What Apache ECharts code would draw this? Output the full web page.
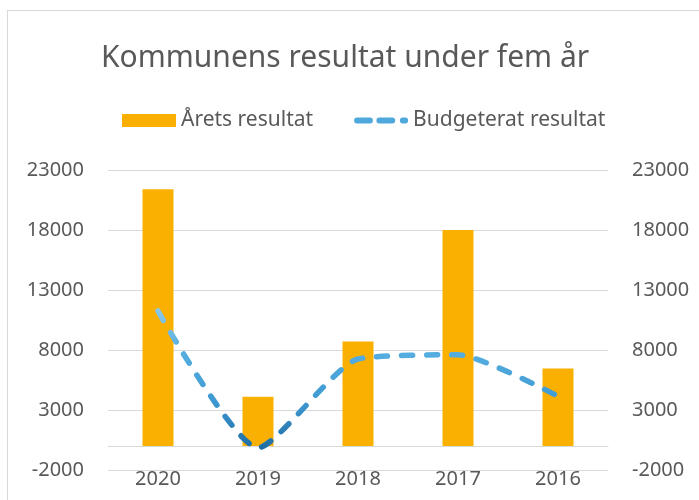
<!DOCTYPE html>
<html>
<head>
<meta charset="utf-8">
<script src="https://cdn.jsdelivr.net/npm/echarts@6/dist/echarts.min.js"></script>
<style>
html,body{margin:0;padding:0;background:#fff;}
#frame{position:absolute;left:7px;top:10px;width:720px;height:520px;border:1px solid #D9D9D9;box-sizing:border-box;}
#chart{position:absolute;left:0;top:0;width:699px;height:500px;}
</style>
</head>
<body>
<div id="frame"></div>
<div id="chart"></div>
<script>
const categories = ['2020', '2019', '2018', '2017', '2016'];
const aretsResultat = [21400, 4100, 8700, 18000, 6450];
const budgeteratResultat = [11250, -150, 7250, 7600, 4150];
const yMin = -2000, yMax = 23000, yStep = 5000;

const FONT = 'Noto Sans';
const TXT = '#595959';
const chart = echarts.init(document.getElementById('chart'), null, {renderer: 'canvas'});

const yAxisBase = {
  type: 'value', min: yMin, max: yMax, interval: yStep,
  axisLine: {show: false}, axisTick: {show: false},
  splitLine: {show: true, lineStyle: {color: '#D9D9D9', width: 1}},
  axisLabel: {color: TXT, fontSize: 20, fontFamily: FONT, margin: 24, formatter: v => String(v)}
};

const dashIcon = 'path://M2.5,0H13.5A2.5,2.5 0 0 1 13.5,5H2.5A2.5,2.5 0 0 1 2.5,0Z' +
  'M21.5,0H32.5A2.5,2.5 0 0 1 32.5,5H21.5A2.5,2.5 0 0 1 21.5,0Z' +
  'M41.5,0H43.5A2.5,2.5 0 0 1 43.5,5H41.5A2.5,2.5 0 0 1 41.5,0Z';

chart.setOption({
  animation: false,
  backgroundColor: 'transparent',
  title: {
    text: 'Kommunens resultat under fem år',
    left: 96, top: 38,
    textStyle: {color: TXT, fontSize: 30, fontWeight: 'normal', fontFamily: FONT}
  },
  legend: {
    left: 122, top: 110, padding: 0,
    itemWidth: 54, itemHeight: 13, itemGap: 41,
    textStyle: {color: TXT, fontSize: 21, fontFamily: FONT},
    data: [
      {name: 'Årets resultat', icon: 'rect'},
      {name: 'Budgeterat resultat', icon: dashIcon, itemStyle: {color: '#4FA8DC'}}
    ]
  },
  grid: {left: 108, right: 91, top: 170, bottom: 30, containLabel: false, outerBoundsMode: 'none'},
  xAxis: {
    type: 'category', data: categories,
    axisLine: {show: true, onZero: true, lineStyle: {color: '#D9D9D9', width: 1}},
    axisTick: {show: false},
    axisLabel: {color: TXT, fontSize: 20, fontFamily: FONT, margin: -1}
  },
  yAxis: [
    Object.assign({}, yAxisBase, {position: 'left'}),
    Object.assign({}, yAxisBase, {position: 'right', splitLine: {show: false}})
  ],
  series: [
    {
      name: 'Årets resultat', type: 'bar', data: aretsResultat,
      barWidth: 31, yAxisIndex: 0,
      itemStyle: {color: '#F9B000'}
    },
    {
      name: 'Budgeterat resultat', type: 'line', data: budgeteratResultat,
      yAxisIndex: 1, smooth: 0.2, symbol: 'none', showSymbol: false,
      z: 5,
      lineStyle: {
        width: 5.5, type: [11, 14], cap: 'round', join: 'round',
        color: new echarts.graphic.LinearGradient(0, 0, 0, 1, [
          {offset: 0, color: '#8CC9EA'},
          {offset: 0.3, color: '#56AEE0'},
          {offset: 0.65, color: '#3F9AD2'},
          {offset: 1, color: '#1D6CA2'}
        ])
      },
      itemStyle: {color: '#4FA8DC'}
    }
  ]
});
</script>
</body>
</html>
